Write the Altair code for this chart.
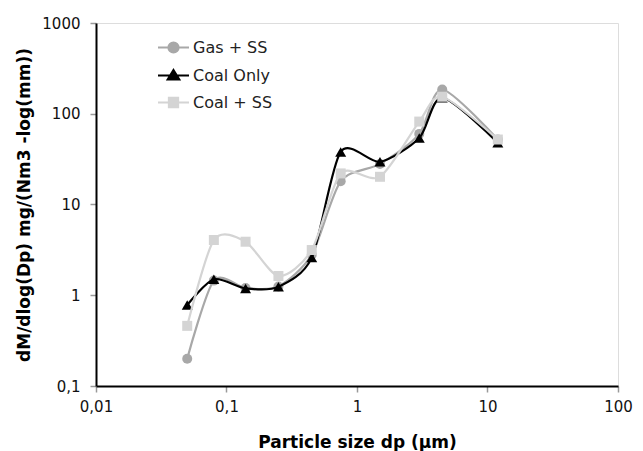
import altair as alt
import pandas as pd

# ---- data ----
particle_size = [0.05, 0.08, 0.14, 0.25, 0.45, 0.75, 1.5, 3.0, 4.5, 12.0]
gas_ss = [0.2, 1.45, 1.2, 1.25, 2.8, 18, 28, 60, 185, 52]
coal_only = [0.78, 1.5, 1.19, 1.24, 2.6, 38, 29.6, 54, 150, 48]
coal_ss = [0.46, 4.06, 3.89, 1.63, 3.15, 22, 20.2, 82, 154, 52]
series_names = ["Gas + SS", "Coal Only", "Coal + SS"]
x_ticks = [0.01, 0.1, 1, 10, 100]
y_ticks = [0.1, 1, 10, 100, 1000]

series_values = {"Gas + SS": gas_ss, "Coal Only": coal_only, "Coal + SS": coal_ss}
rows = []
for name in series_names:
    for xv, yv in zip(particle_size, series_values[name]):
        rows.append({"series": name, "dp": xv, "val": yv})
df = pd.DataFrame(rows)

colors = {"Gas + SS": "#a8a8a8", "Coal Only": "#000000", "Coal + SS": "#d4d4d4"}
shapes = {"Gas + SS": "circle", "Coal Only": "triangle-up", "Coal + SS": "square"}
marker_size = {"Gas + SS": 100, "Coal Only": 120, "Coal + SS": 100}

legend_paths = [
    "M-1,0H1M0.33,0A0.33,0.33,0,1,1,-0.33,0A0.33,0.33,0,1,1,0.33,0Z",
    "M-1,0H1M0,-0.36L0.38,0.26L-0.38,0.26Z",
    "M-1,0H1M-0.3,-0.3H0.3V0.3H-0.3Z",
]

FONT = "DejaVu Sans"

x_enc = alt.X(
    "dp:Q",
    scale=alt.Scale(type="log", domain=[0.01, 100], nice=False),
    axis=alt.Axis(
        values=x_ticks, format=".2~f", labelExpr="replace(datum.label, '.', ',')",
        grid=False, tickSize=6, tickColor="#999999", tickWidth=1.5,
        domainColor="#000000", domainWidth=2,
        labelFont=FONT, labelFontSize=15, labelColor="#111111", labelPadding=7,
        labelFlush=False, labelOverlap=False,
        title="Particle size dp (µm)", titleFont=FONT, titleFontSize=17,
        titleFontWeight="bold", titleColor="#000000", titlePadding=20,
    ),
)
y_enc = alt.Y(
    "val:Q",
    scale=alt.Scale(type="log", domain=[0.1, 1000], nice=False),
    axis=alt.Axis(
        values=y_ticks, format=".2~f", labelExpr="replace(datum.label, '.', ',')",
        grid=False, tickSize=6, tickColor="#999999", tickWidth=1.5,
        domainColor="#000000", domainWidth=2,
        labelFont=FONT, labelFontSize=15, labelColor="#111111", labelPadding=10,
        labelFlush=False, labelOverlap=False,
        title="dM/dlog(Dp) mg/(Nm3 -log(mm))", titleFont=FONT, titleFontSize=17,
        titleFontWeight="bold", titleColor="#000000", titlePadding=8,
    ),
)

base = alt.Chart(df)
layers = []
for name in series_names:
    sub = base.transform_filter(alt.datum.series == name)
    layers.append(
        sub.mark_line(interpolate="cardinal", tension=0.2, strokeWidth=2.2,
                      color=colors[name]).encode(x=x_enc, y=y_enc)
    )
    layers.append(
        sub.mark_point(shape=shapes[name], filled=True, opacity=1,
                       size=marker_size[name], color=colors[name]).encode(x=x_enc, y=y_enc)
    )

leg_scale_color = alt.Scale(domain=series_names, range=[colors[n] for n in series_names])
leg_scale_shape = alt.Scale(domain=series_names, range=legend_paths)
legend = alt.Legend(
    title=None, orient="none", legendX=61, legendY=8, direction="vertical",
    labelFont=FONT, labelFontSize=16, labelColor="#222222", labelOffset=3,
    rowPadding=2, padding=0, symbolSize=961, symbolStrokeWidth=2,
    symbolOpacity=1,
)
legend_layer = base.transform_filter("false").mark_point(
    filled=True, opacity=1, size=961, strokeWidth=2
).encode(
    shape=alt.Shape("series:N", scale=leg_scale_shape, legend=legend),
    fill=alt.Fill("series:N", scale=leg_scale_color, legend=legend),
    stroke=alt.Stroke("series:N", scale=leg_scale_color, legend=legend),
)

chart = alt.layer(*layers, legend_layer).properties(
    width=522, height=363,
    autosize=alt.AutoSizeParams(type="none"),
    padding={"left": 88, "top": 15, "right": 17, "bottom": 65},
).configure_view(
    stroke="#000000", strokeWidth=2
).configure(background="white")

chart.save("out.html", embed_options={"renderer": "svg", "actions": False})
